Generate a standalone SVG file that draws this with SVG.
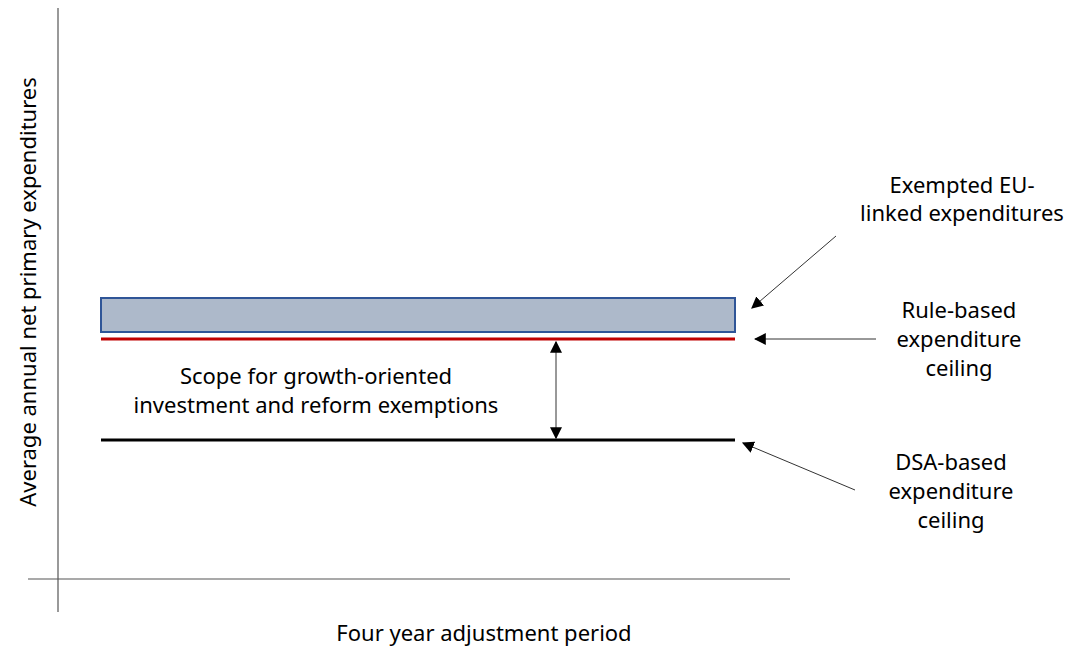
<svg xmlns="http://www.w3.org/2000/svg" width="1067" height="648" viewBox="0 0 1067 648">
<style>
text{font-family:"Noto Sans","Open Sans",sans-serif;font-size:22px;fill:#000;text-anchor:middle}
.ax{stroke:#555;stroke-width:1.2;fill:none}
.conn{stroke:#333;stroke-width:1;fill:none}
</style>
<defs>
<marker id="ah" viewBox="0 0 10 10" refX="9" refY="5" markerWidth="12" markerHeight="12" markerUnits="userSpaceOnUse" orient="auto-start-reverse">
<path d="M0,0 L10,5 L0,10 z" fill="#000"/>
</marker>
</defs>
<rect width="1067" height="648" fill="#fff"/>
<g id="axes">
<line class="ax" x1="58" y1="8" x2="58" y2="612"/>
<line class="ax" x1="28" y1="579" x2="790" y2="579"/>
<text transform="translate(36,292) rotate(-90)">Average annual net primary expenditures</text>
<text x="484" y="641">Four year adjustment period</text>
</g>
<g id="exempted-bar">
<rect x="101" y="298" width="634" height="34" fill="#adb9ca" stroke="#2f5597" stroke-width="2"/>
</g>
<g id="rule-line">
<line x1="101" y1="339" x2="735" y2="339" stroke="#c00000" stroke-width="3"/>
</g>
<g id="dsa-line">
<line x1="101" y1="440" x2="735" y2="440" stroke="#000" stroke-width="3"/>
</g>
<g id="scope-label">
<text x="316" y="384">Scope for growth-oriented</text>
<text x="316" y="413">investment and reform exemptions</text>
</g>
<g id="label-exempted">
<text x="962" y="193">Exempted EU-</text>
<text x="962" y="221">linked expenditures</text>
</g>
<g id="label-rule">
<text x="959" y="318">Rule-based</text>
<text x="959" y="347">expenditure</text>
<text x="959" y="376">ceiling</text>
</g>
<g id="label-dsa">
<text x="951" y="470">DSA-based</text>
<text x="951" y="499">expenditure</text>
<text x="951" y="528">ceiling</text>
</g>
<g id="connectors">
<line class="conn" x1="556" y1="342" x2="556" y2="438" marker-start="url(#ah)" marker-end="url(#ah)"/>
<line class="conn" x1="836" y1="236" x2="752" y2="308" marker-end="url(#ah)"/>
<line class="conn" x1="876" y1="339" x2="755" y2="339" marker-end="url(#ah)"/>
<line class="conn" x1="855" y1="490" x2="743" y2="443" marker-end="url(#ah)"/>
</g>
</svg>
